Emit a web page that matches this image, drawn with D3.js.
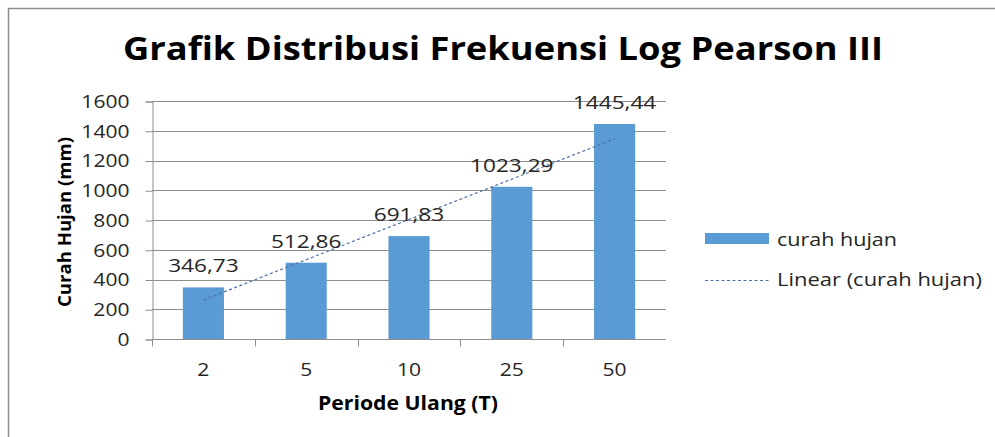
<!DOCTYPE html>
<html>
<head>
<meta charset="utf-8">
<script src="https://cdn.jsdelivr.net/npm/d3@7"></script>
<style>
  body { margin: 0; background: #fff; }
  text { font-family: "Open Sans", sans-serif; }
</style>
</head>
<body>
<div class="chart"></div>
<script>
// data
const periods = ['2', '5', '10', '25', '50'];
const rainfall = [346.73, 512.86, 691.83, 1023.29, 1445.44];
const yTicks = [0, 200, 400, 600, 800, 1000, 1200, 1400, 1600];
const labelText = ['346,73', '512,86', '691,83', '1023,29', '1445,44'];

const W = 995, H = 437;
const plot = {left: 152, right: 666, top: 101, bottom: 339};

const svg = d3.select('.chart')
  .append('svg')
  .attr('width', W)
  .attr('height', H);

// the picture is a bit wider than the fonts, so stretch text sideways
function widen(sel, k) {
  sel.each(function() {
    const w = this.getComputedTextLength();
    d3.select(this).attr('textLength', w * k).attr('lengthAdjust', 'spacingAndGlyphs');
  });
}

// frame
svg.append('path')
  .attr('d', `M8.5,${H} L8.5,8.5 L${W},8.5`)
  .attr('fill', 'none')
  .attr('stroke', '#8c8c8c')
  .attr('stroke-width', 1.5);

const xScale = d3.scaleBand()
  .domain(periods)
  .range([plot.left, plot.right])
  .paddingInner(0)
  .paddingOuter(0);

const yScale = d3.scaleLinear()
  .domain([0, 1600])
  .range([plot.bottom, plot.top]);

// gridlines
svg.append('g')
  .selectAll('line')
  .data(yTicks)
  .enter()
  .append('line')
  .attr('x1', plot.left)
  .attr('x2', plot.right)
  .attr('y1', d => Math.round(yScale(d)) + 0.5)
  .attr('y2', d => Math.round(yScale(d)) + 0.5)
  .attr('stroke', '#8e8e8e')
  .attr('stroke-width', 1);

// y axis
const yAxis = d3.axisLeft(yScale)
  .tickValues(yTicks)
  .tickFormat(d3.format('d'))
  .tickSize(7)
  .tickPadding(16);

const gy = svg.append('g')
  .attr('class', 'axis y-axis')
  .attr('transform', `translate(${plot.left + 0.5},0.5)`)
  .call(yAxis);
gy.select('.domain').attr('stroke', '#8e8e8e');
gy.selectAll('.tick line').attr('stroke', '#8e8e8e');
gy.selectAll('.tick text')
  .attr('font-family', 'Open Sans')
  .attr('font-size', 18)
  .attr('fill', '#262626')
  .call(widen, 1.17);

// x axis, ticks sit on band edges
const gx = svg.append('g')
  .attr('class', 'axis x-axis')
  .attr('transform', `translate(0,${plot.bottom + 0.5})`);
gx.append('line')
  .attr('x1', plot.left)
  .attr('x2', plot.right)
  .attr('stroke', '#8e8e8e');
gx.selectAll('.edge')
  .data(periods)
  .enter()
  .append('line')
  .attr('class', 'edge')
  .attr('x1', d => Math.round(xScale(d)) + 0.5)
  .attr('x2', d => Math.round(xScale(d)) + 0.5)
  .attr('y1', 0)
  .attr('y2', 7)
  .attr('stroke', '#8e8e8e');
gx.selectAll('.lbl')
  .data(periods)
  .enter()
  .append('text')
  .attr('class', 'lbl')
  .attr('x', d => xScale(d) + xScale.bandwidth() / 2)
  .attr('y', 36)
  .attr('text-anchor', 'middle')
  .attr('font-size', 18)
  .attr('fill', '#262626')
  .text(d => d)
  .call(widen, 1.17);

// bars
const barW = xScale.bandwidth() / 2.5;
svg.selectAll('rect.bar')
  .data(rainfall)
  .enter()
  .append('rect')
  .attr('class', 'bar')
  .attr('x', (d, i) => xScale(periods[i]) + (xScale.bandwidth() - barW) / 2)
  .attr('y', d => yScale(d))
  .attr('width', barW)
  .attr('height', d => plot.bottom - yScale(d))
  .attr('fill', '#5b9bd5');

// linear trendline (least squares over the category index)
const xs = rainfall.map((d, i) => i + 1);
const mx = d3.mean(xs), my = d3.mean(rainfall);
const slope = d3.sum(xs, (x, i) => (x - mx) * (rainfall[i] - my)) / d3.sum(xs, x => (x - mx) * (x - mx));
const icpt = my - slope * mx;
const cx = i => xScale(periods[i]) + xScale.bandwidth() / 2;
svg.append('line')
  .attr('x1', cx(0))
  .attr('y1', yScale(icpt + slope * 1))
  .attr('x2', cx(periods.length - 1))
  .attr('y2', yScale(icpt + slope * periods.length))
  .attr('stroke', '#4f6fa8')
  .attr('stroke-width', 1.2)
  .attr('stroke-dasharray', '3,2.5');

// data labels
svg.selectAll('text.val')
  .data(rainfall)
  .enter()
  .append('text')
  .attr('class', 'val')
  .attr('x', (d, i) => cx(i))
  .attr('y', d => yScale(d) - 15)
  .attr('text-anchor', 'middle')
  .attr('font-size', 19)
  .attr('fill', '#262626')
  .text((d, i) => labelText[i])
  .call(widen, 1.19);

// title
svg.append('text')
  .attr('x', 123)
  .attr('y', 60)
  .attr('font-size', 32)
  .attr('font-weight', 'bold')
  .attr('fill', '#000')
  .attr('textLength', 760)
  .attr('lengthAdjust', 'spacingAndGlyphs')
  .text('Grafik Distribusi Frekuensi Log Pearson III');

// axis titles
svg.append('text')
  .attr('transform', 'translate(71,222) rotate(-90)')
  .attr('text-anchor', 'middle')
  .attr('font-size', 18)
  .attr('font-weight', 'bold')
  .attr('fill', '#000')
  .attr('textLength', 170)
  .attr('lengthAdjust', 'spacingAndGlyphs')
  .text('Curah Hujan (mm)');

svg.append('text')
  .attr('x', 408)
  .attr('y', 410)
  .attr('text-anchor', 'middle')
  .attr('font-size', 19)
  .attr('font-weight', 'bold')
  .attr('fill', '#000')
  .attr('textLength', 180)
  .attr('lengthAdjust', 'spacingAndGlyphs')
  .text('Periode Ulang (T)');

// legend
const lg = svg.append('g').attr('transform', 'translate(705,0)');
lg.append('rect')
  .attr('x', 0)
  .attr('y', 233)
  .attr('width', 64)
  .attr('height', 11)
  .attr('fill', '#5b9bd5');
lg.append('line')
  .attr('x1', 0)
  .attr('x2', 64)
  .attr('y1', 280.5)
  .attr('y2', 280.5)
  .attr('stroke', '#4f6fa8')
  .attr('stroke-width', 1.2)
  .attr('stroke-dasharray', '3,2.5');
lg.append('text')
  .attr('x', 72)
  .attr('y', 246)
  .attr('font-size', 18)
  .attr('fill', '#262626')
  .attr('textLength', 120)
  .attr('lengthAdjust', 'spacingAndGlyphs')
  .text('curah hujan');
lg.append('text')
  .attr('x', 72)
  .attr('y', 286)
  .attr('font-size', 18)
  .attr('fill', '#262626')
  .attr('textLength', 205)
  .attr('lengthAdjust', 'spacingAndGlyphs')
  .text('Linear (curah hujan)');
</script>
</body>
</html>
